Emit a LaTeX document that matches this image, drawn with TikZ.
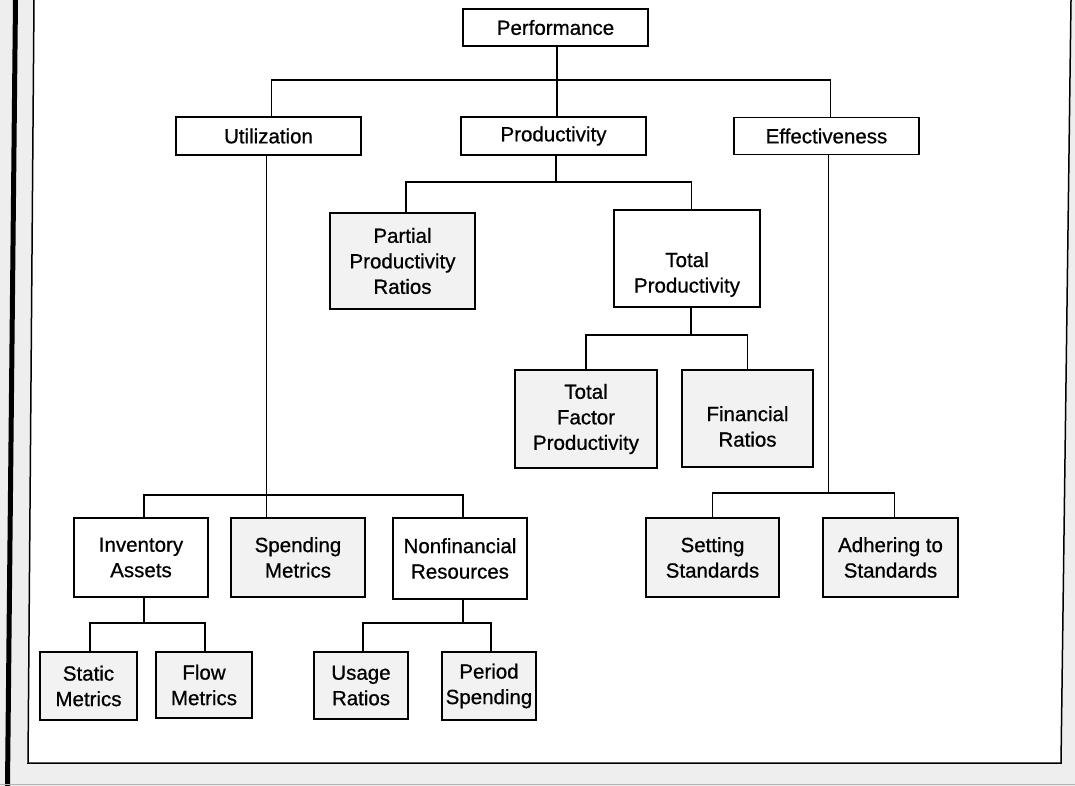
\documentclass[tikz,border=0pt]{standalone}
\usepackage{fontspec}
\setmainfont{Liberation Sans}
\newfontfamily\diagfont{Liberation Sans}[FakeBold=0.7]
\begin{document}
\begin{tikzpicture}[x=1pt,y=-1pt,
  box/.style={draw=black, line width=1.6pt, inner sep=0pt, align=center,
    font=\diagfont\fontsize{20.5}{25.5}\selectfont},
  wbox/.style={box, fill=white},
  gbox/.style={box, fill=gray!10},
  txt/.style={inner sep=0pt, align=center, font=\diagfont\fontsize{20.5}{25.5}\selectfont},
  conn/.style={line width=1.5pt, line cap=rect}]
\useasboundingbox (0,0) rectangle (1075,786);
% page background and frame
\fill[gray!13] (0,0) rectangle (1075,786);
\fill[white] (34,0) -- (28,763) -- (1061,763) -- (1071,0) -- cycle;
\draw[line width=1.5pt] (34,0) -- (28,763) -- (1061,763) -- (1071,0);
\fill[black] (13,0) -- (18,0) -- (10,786) -- (5,786) -- cycle;
\draw[gray!60, line width=1pt] (0,784) -- (1075,784);

% boxes
\node[wbox, minimum width=185pt, minimum height=37pt] (perf) at (555.5,27.5) {Performance};
\node[wbox, minimum width=185pt, minimum height=38pt] (util) at (268.5,136) {Utilization};
\node[wbox, minimum width=185pt, minimum height=38pt] (prod) at (553.5,136) {Productivity};
\node[wbox, minimum width=185pt, minimum height=37pt] (eff) at (826.5,136) {Effectiveness};

\node[gbox, minimum width=145pt, minimum height=96pt] (ppr) at (402.5,261) {Partial\\Productivity\\Ratios};
\node[wbox, minimum width=146pt, minimum height=97pt] (tp) at (687,258.5) {};
\node[txt] (tptext) at ([yshift=-16pt]tp.center) {Total\\Productivity};

\node[gbox, minimum width=142pt, minimum height=98pt] (tfp) at (586,419) {Total\\Factor\\Productivity};
\node[gbox, minimum width=131pt, minimum height=97pt] (fr) at (747.5,418.5) {};
\node[txt] (frtext) at ([yshift=-8pt]fr.center) {Financial\\Ratios};

\node[wbox, minimum width=134pt, minimum height=79pt] (ia) at (141,557.5) {Inventory\\Assets};
\node[gbox, minimum width=134pt, minimum height=79pt] (sm) at (298,557.5) {Spending\\Metrics};
\node[wbox, minimum width=134pt, minimum height=81pt] (nr) at (460,558.5) {Nonfinancial\\Resources};
\node[gbox, minimum width=133pt, minimum height=79pt] (ss) at (712.5,557.5) {Setting\\Standards};
\node[gbox, minimum width=135pt, minimum height=79pt] (as) at (890.5,557.5) {Adhering to\\Standards};

\node[gbox, minimum width=97pt, minimum height=68pt] (stat) at (88.5,686) {Static\\Metrics};
\node[gbox, minimum width=96pt, minimum height=66pt] (flow) at (204,685) {Flow\\Metrics};
\node[gbox, minimum width=94pt, minimum height=67pt] (usage) at (361,685.5) {Usage\\Ratios};
\node[gbox, minimum width=94pt, minimum height=68pt] (period) at (489,686) {Period\\Spending};

% bus coordinates
\coordinate (b0) at (557,80);
\coordinate (b1) at (556,182);
\coordinate (b2) at (691,335);
\coordinate (b3) at (300,495);
\coordinate (b4) at (828,493);
\coordinate (b5) at (144,623);
\coordinate (b6) at (463,623);

% connectors
\draw[conn] ([xshift=1.5pt]perf.south) -- ([xshift=1.5pt]perf.south |- prod.north);
\draw[conn] ([xshift=3pt]util.north) |- (b0) -| ([xshift=4pt]eff.north);

\draw[conn] ([xshift=2.5pt]prod.south) -- ([xshift=2.5pt]prod.south |- b1);
\draw[conn] ([xshift=3.5pt]ppr.north) |- (b1) -| ([xshift=4.5pt]tp.north);

\draw[conn] ([xshift=4pt]tp.south) -- ([xshift=4pt]tp.south |- b2);
\draw[conn] (tfp.north) |- (b2) -| (fr.north);

\draw[conn] ([xshift=-2pt]util.south) -- ([xshift=-2pt]util.south |- sm.north);
\draw[conn] ([xshift=3pt]ia.north) |- (b3) -| ([xshift=3pt]nr.north);

\draw[conn] ([xshift=2pt]eff.south) -- ([xshift=2pt]eff.south |- b4);
\draw[conn] (ss.north) |- (b4) -| ([xshift=4pt]as.north);

\draw[conn] ([xshift=3pt]ia.south) -- ([xshift=3pt]ia.south |- b5);
\draw[conn] ([xshift=1.5pt]stat.north) |- (b5) -| ([xshift=1pt]flow.north);

\draw[conn] ([xshift=3pt]nr.south) -- ([xshift=3pt]nr.south |- b6);
\draw[conn] ([xshift=2pt]usage.north) |- (b6) -| ([xshift=2pt]period.north);
\end{tikzpicture}
\end{document}
